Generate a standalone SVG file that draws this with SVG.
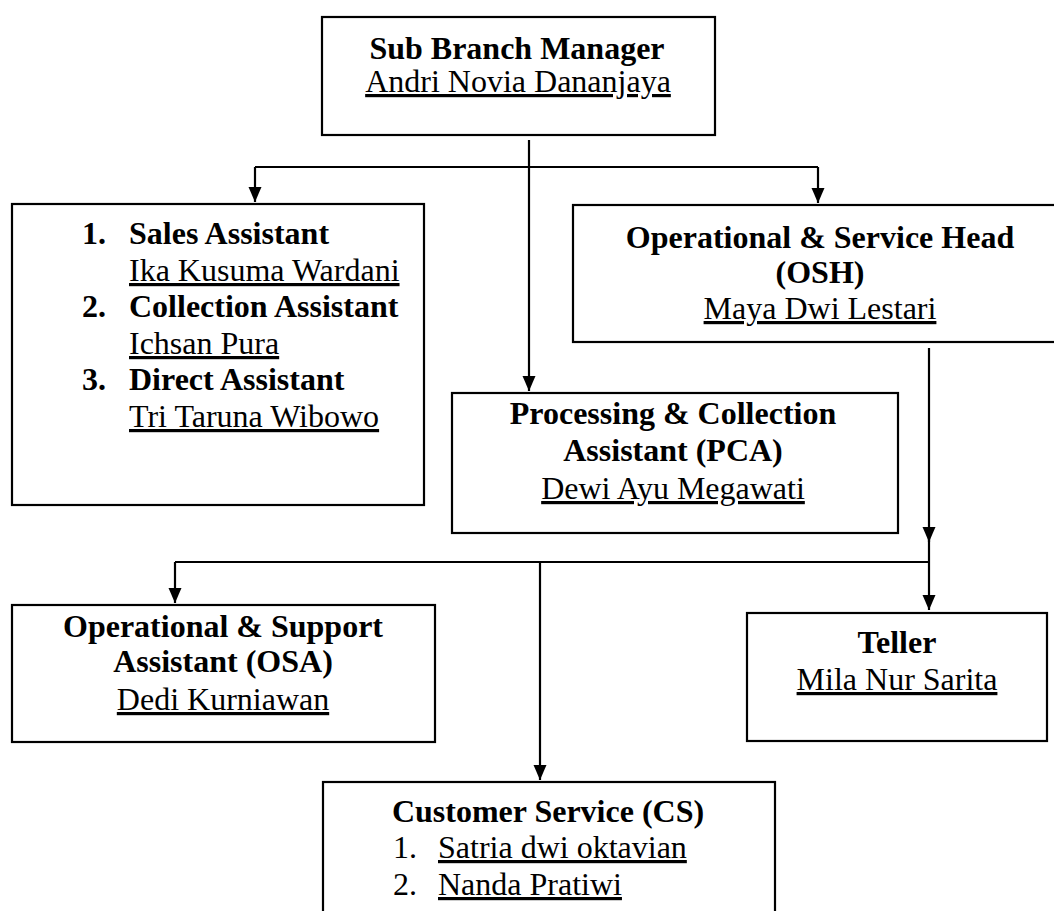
<svg xmlns="http://www.w3.org/2000/svg" width="1054" height="911" viewBox="0 0 1054 911">
<style>
  .box { fill: #fff; stroke: #000; stroke-width: 2.2; }
  .ln { fill: none; stroke: #000; stroke-width: 2.2; }
  text { font-family: "Liberation Serif", "Times New Roman", serif; font-size: 32px; fill: #000; }
  .b { font-weight: bold; }
  .c { text-anchor: middle; }
  .u { text-decoration: underline; }
</style>
<defs>
  <marker id="arr" viewBox="0 -7 15 14" markerWidth="15" markerHeight="14" refX="15" refY="0" orient="auto" markerUnits="userSpaceOnUse">
    <path d="M0,-6.5 L15,0 L0,6.5 z" fill="#000"/>
  </marker>
</defs>
<rect width="1054" height="911" fill="#fff"/>
<g id="connectors">
  <path class="ln" d="M529,140 L529,391" marker-end="url(#arr)"/>
  <path class="ln" d="M255,167 L818,167"/>
  <path class="ln" d="M255,167 L255,202" marker-end="url(#arr)"/>
  <path class="ln" d="M818,167 L818,203" marker-end="url(#arr)"/>
  <path class="ln" d="M929,348 L929,542" marker-end="url(#arr)"/>
  <path class="ln" d="M929,535 L929,610" marker-end="url(#arr)"/>
  <path class="ln" d="M175,562 L929,562"/>
  <path class="ln" d="M175,562 L175,603" marker-end="url(#arr)"/>
  <path class="ln" d="M540,562 L540,780" marker-end="url(#arr)"/>
</g>
<g id="sbm">
  <rect class="box" x="322" y="17" width="393" height="118"/>
  <text class="b c" x="517" y="59">Sub Branch Manager</text>
  <text class="c u" x="518" y="92">Andri Novia Dananjaya</text>
</g>
<g id="assistants">
  <rect class="box" x="12" y="204" width="412" height="301"/>
  <text class="b" x="82" y="244">1.</text>
  <text class="b" x="129" y="244">Sales Assistant</text>
  <text class="u" x="129" y="281">Ika Kusuma Wardani</text>
  <text class="b" x="82" y="317">2.</text>
  <text class="b" x="129" y="317">Collection Assistant</text>
  <text class="u" x="129" y="354">Ichsan Pura</text>
  <text class="b" x="82" y="390">3.</text>
  <text class="b" x="129" y="390">Direct Assistant</text>
  <text class="u" x="129" y="427">Tri Taruna Wibowo</text>
</g>
<g id="osh">
  <rect class="box" x="573" y="205" width="500" height="137"/>
  <text class="b c" x="820" y="248">Operational &amp; Service Head</text>
  <text class="b c" x="820" y="283">(OSH)</text>
  <text class="c u" x="820" y="319">Maya Dwi Lestari</text>
</g>
<g id="pca">
  <rect class="box" x="452" y="393" width="446" height="140"/>
  <text class="b c" x="673" y="424">Processing &amp; Collection</text>
  <text class="b c" x="673" y="461">Assistant (PCA)</text>
  <text class="c u" x="673" y="499">Dewi Ayu Megawati</text>
</g>
<g id="osa">
  <rect class="box" x="12" y="605" width="423" height="137"/>
  <text class="b c" x="223" y="637">Operational &amp; Support</text>
  <text class="b c" x="223" y="672">Assistant (OSA)</text>
  <text class="c u" x="223" y="710">Dedi Kurniawan</text>
</g>
<g id="teller">
  <rect class="box" x="747" y="613" width="300" height="128"/>
  <text class="b c" x="897" y="653">Teller</text>
  <text class="c u" x="897" y="690">Mila Nur Sarita</text>
</g>
<g id="cs">
  <rect class="box" x="323" y="782" width="452" height="140"/>
  <text class="b c" x="548" y="822">Customer Service (CS)</text>
  <text x="393" y="858">1.</text>
  <text class="u" x="438" y="858">Satria dwi oktavian</text>
  <text x="393" y="895">2.</text>
  <text class="u" x="438" y="895">Nanda Pratiwi</text>
</g>
</svg>
